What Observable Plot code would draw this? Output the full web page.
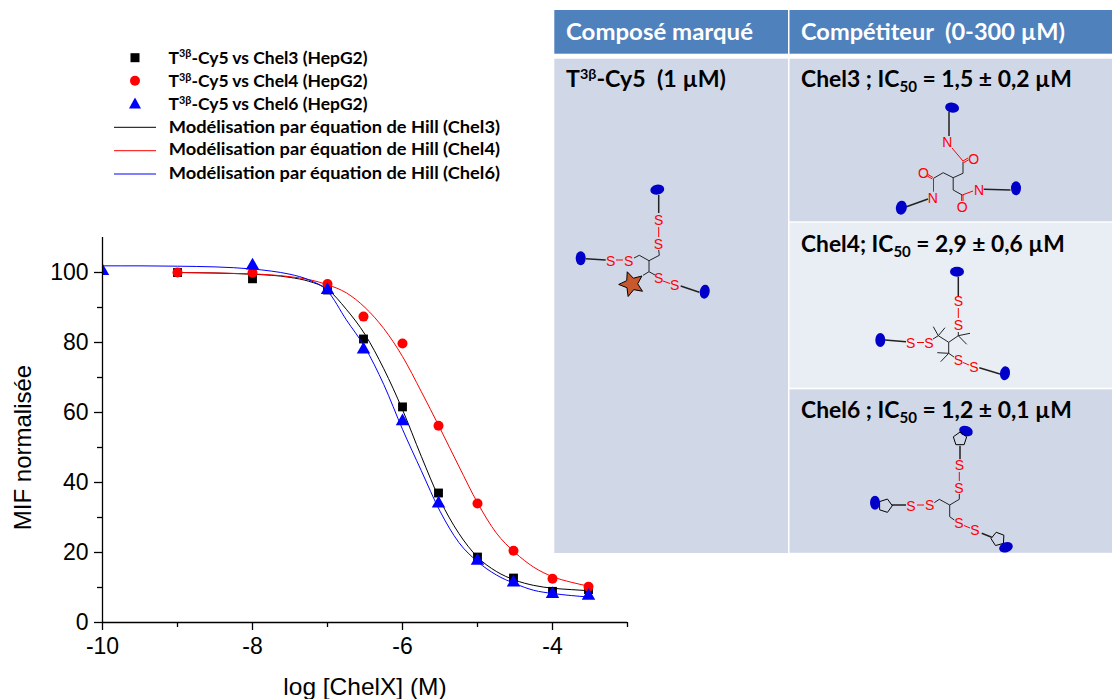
<!DOCTYPE html>
<html lang="fr">
<head>
<meta charset="utf-8">
<title>MIF normalisée</title>
<script src="https://cdn.jsdelivr.net/npm/d3@7"></script>
<script src="https://cdn.jsdelivr.net/npm/@observablehq/plot@0.6"></script>
<style>
html,body{margin:0;padding:0;background:#fff;overflow:hidden}
#stage{position:relative;width:1112px;height:699px}
#stage>svg{position:absolute;left:0;top:0}
</style>
</head>
<body>
<div id="stage"></div>
<script>
// Measured points
const chel3X = [-9,-8,-7,-6.52,-6,-5.52,-5,-4.52,-4,-3.52];
const chel3Y = [100,98.2,95,81,61.6,37,18.7,12.7,8.9,9.4];
const chel4X = [-9,-8,-7,-6.52,-6,-5.52,-5,-4.52,-4,-3.52];
const chel4Y = [100,99.9,96.7,87.4,79.7,56.2,34,20.5,12.5,10.2];
const chel6X = [-10,-8,-7,-6.52,-6,-5.52,-5,-4.52,-4,-3.52];
const chel6Y = [100.4,102,95,78,57.5,34,17.6,11.4,8.1,7.6];
// Fitted curves
const fit3X = [-9,-8,-7.5,-7.25,-7,-6.75,-6.5,-6.25,-6,-5.75,-5.5,-5.25,-5,-4.75,-4.5,-4.25,-4,-3.75,-3.52];
const fit3Y = [100,99.5,98.6,97.5,95.2,89.5,82.3,72.5,60.8,47.5,35,25.5,18.7,14.6,12.1,10.6,9.8,9.4,9.1];
const fit4X = [-9,-8,-7.5,-7.25,-7,-6.75,-6.5,-6.25,-6,-5.75,-5.5,-5.25,-5,-4.75,-4.5,-4.25,-4,-3.75,-3.52];
const fit4Y = [100,99.6,98.8,98,96.5,94.2,90,84,76,66,55.5,44.7,34.2,25.6,20,15.8,13.1,11.5,10.4];
const fit6X = [-10,-9.5,-9,-8.5,-8,-7.75,-7.5,-7.25,-7,-6.75,-6.5,-6.25,-6,-5.75,-5.5,-5.25,-5,-4.75,-4.5,-4.25,-4,-3.75,-3.52];
const fit6Y = [101.9,101.9,101.8,101.6,101,100.4,99.5,97.9,94.7,86.5,78.6,68,55.2,43.4,31.8,22.9,17.4,13.6,11.1,9.2,8.3,7.7,7.3];
const xMajor = [-10,-8,-6,-4];
const xMinor = [-9,-7,-5,-3];
const yMajor = [0,20,40,60,80,100];
const yMinor = [10,30,50,70,90];
const xLabel = "log [ChelX] (M)";
const yLabel = "MIF normalisée";
const legendDots = ["T|3β|-Cy5 vs Chel3 (HepG2)","T|3β|-Cy5 vs Chel4 (HepG2)","T|3β|-Cy5 vs Chel6 (HepG2)"];
const legendLines = ["Modélisation par équation de Hill (Chel3)","Modélisation par équation de Hill (Chel4)","Modélisation par équation de Hill (Chel6)"];
const colors = ["#000000","#ff0000","#0000ff"];

const pts = (xs,ys)=>xs.map((x,i)=>({x,y:ys[i]}));
const axisFont = 23;
const fmt = d=>String(d);

const chart = Plot.plot({
  width:1112,height:699,
  marginLeft:102,marginRight:485,marginTop:237,marginBottom:77,
  style:{fontFamily:"'Liberation Sans',Arial,sans-serif",color:"#000",background:"transparent"},
  x:{domain:[-10,-3]},
  y:{domain:[0,110]},
  marks:[
    Plot.dot(pts(chel3X,chel3Y),{x:"x",y:"y",symbol:"square",r:5,fill:colors[0]}),
    Plot.line(pts(fit3X,fit3Y),{x:"x",y:"y",stroke:colors[0],strokeWidth:1,curve:"monotone-x"}),
    Plot.line(pts(fit4X,fit4Y),{x:"x",y:"y",stroke:colors[1],strokeWidth:1,curve:"monotone-x"}),
    Plot.dot(pts(chel4X,chel4Y),{x:"x",y:"y",symbol:"circle",r:5,fill:colors[1]}),
    Plot.line(pts(fit6X,fit6Y),{x:"x",y:"y",stroke:colors[2],strokeWidth:1,curve:"monotone-x"}),
    Plot.dot(pts(chel6X,chel6Y),{x:"x",y:"y",symbol:"triangle",r:5,fill:colors[2],clip:"frame"}),
    Plot.axisX({ticks:xMinor,tickSize:5,tickFormat:()=>"",label:null,strokeWidth:1.3,strokeOpacity:1}),
    Plot.axisY({ticks:yMinor,tickSize:5,tickFormat:()=>"",label:null,strokeWidth:1.3,strokeOpacity:1}),
    Plot.axisX({ticks:xMajor,tickSize:8,tickPadding:7,tickFormat:fmt,fontSize:axisFont,label:null,strokeWidth:1.3,strokeOpacity:1}),
    Plot.axisY({ticks:yMajor,tickSize:8,tickPadding:6,tickFormat:fmt,fontSize:axisFont,label:null,strokeWidth:1.3,strokeOpacity:1}),
    Plot.ruleY([0],{stroke:"#000",strokeWidth:1.3}),
    Plot.ruleX([-10],{stroke:"#000",strokeWidth:1.3}),
    Plot.text([xLabel],{frameAnchor:"bottom",dy:65,lineAnchor:"middle",fontSize:24.5,fill:"#000"}),
    Plot.text([yLabel],{frameAnchor:"left",dx:-79,dy:17.5,rotate:-90,lineAnchor:"middle",textAnchor:"middle",fontSize:24,fill:"#000"})
  ]
});
const stage = document.getElementById("stage");
stage.appendChild(chart);

// Legend, table and structural drawings: an illustration layer over the chart
const svg = d3.select(stage).append("svg").attr("width",1112).attr("height",699).attr("viewBox","0 0 1112 699")
  .style("font-family","Lato,'Open Sans',sans-serif").style("pointer-events","none");

// writes a text run and stretches it horizontally to the reference's width
function richText(x,y,parts,size,fill,width){
  const t = svg.append("text").attr("font-size",size).attr("font-weight",700).attr("fill",fill||"#000").style("white-space","pre");
  parts.forEach(p=>{
    const s = typeof p==="string"?{t:p}:p;
    const ts = t.append("tspan").text(s.t);
    if(s.sup){ts.attr("dy",-size*0.36).attr("font-size",size*0.62);}
    if(s.sub){ts.attr("dy",size*0.24).attr("font-size",size*0.66);}
    if(s.back){ts.attr("dy",s.back*size);}
  });
  const k = width/t.node().getComputedTextLength();
  t.attr("transform",`translate(${x},${y}) scale(${k},1)`);
  return t;
}
// legend
const legendDotBase = [63.5,87,110];
const legendLineY = [127.3,150.7,174], legendLineBase = [133,155.3,178.7];
const legendSize = 16.8;
svg.append("rect").attr("x",130.5).attr("y",53.2).attr("width",9).attr("height",9).attr("fill",colors[0]);
svg.append("circle").attr("cx",135).attr("cy",80.7).attr("r",5).attr("fill",colors[1]);
svg.append("path").attr("d","M135,97.5L141,108.5L129,108.5Z").attr("fill",colors[2]);
legendDots.forEach((s,i)=>{
  const [a,b,c]=s.split("|");
  richText(168.5,legendDotBase[i],[a,{t:b,sup:1},{t:c,back:0.36}],legendSize,"#000",199);
});
legendLines.forEach((s,i)=>{
  svg.append("line").attr("x1",114).attr("x2",156).attr("y1",legendLineY[i]).attr("y2",legendLineY[i]).attr("stroke",colors[i]).attr("stroke-width",1);
  richText(168.8,legendLineBase[i],[s],legendSize,"#000",331);
});
// table
const cells = [
  [554.3,10,233.7,43.7,"#4f81bd"],[789.5,10,322.5,43.7,"#4f81bd"],
  [554.3,58.7,233.7,494.3,"#d0d8e8"],[789.5,58.7,322.5,162.6,"#d0d8e8"],
  [789.5,222.7,322.5,165,"#e9edf4"],[789.5,389.3,322.5,163.5,"#d0d8e8"]
];
cells.forEach(c=>svg.append("rect").attr("x",c[0]).attr("y",c[1]).attr("width",c[2]).attr("height",c[3]).attr("fill",c[4]));
const headSize = 22;
richText(566,39.5,["Composé marqué"],headSize,"#fff",187);
richText(801,39.5,["Compétiteur  (0-300 µM)"],headSize,"#fff",264);
richText(566,87,["T",{t:"3β",sup:1},{t:"-Cy5  (1 µM)",back:0.36}],headSize,"#000",160);
const icRow = (y,name,val,w)=>richText(801,y,[name+" IC",{t:"50",sub:1},{t:" = "+val,back:-0.24}],headSize,"#000",w);
icRow(87,"Chel3 ;","1,5 ± 0,2 µM",271);
icRow(252,"Chel4;","2,9 ± 0,6 µM",264);
icRow(418,"Chel6 ;","1,2 ± 0,1 µM",271);

// molecule helpers
const poly=(p,c,w)=>svg.append("polyline").attr("points",p.map(q=>q.join(",")).join(" ")).attr("fill","none").attr("stroke",c).attr("stroke-width",w||1).attr("stroke-linejoin","round");
const blue=(x,y,rx,ry,a)=>svg.append("ellipse").attr("cx",0).attr("cy",0).attr("rx",rx).attr("ry",ry).attr("fill","#0000c8").attr("transform",`translate(${x},${y}) rotate(${a||0})`);
const atom=(s,x,y,size)=>svg.append("text").attr("x",x).attr("y",y).attr("dy","0.36em").attr("text-anchor","middle").attr("font-family","'Liberation Sans',Arial,sans-serif").attr("font-size",size||14).attr("fill","#ff0000").text(s);
const penta=(x,y,r,a)=>{const p=d3.range(5).map(i=>{const t=(a||0)+i*72-90;return [x+r*Math.cos(t*Math.PI/180),y+r*Math.sin(t*Math.PI/180)];});
  svg.append("polygon").attr("points",p.map(q=>q.join(",")).join(" ")).attr("fill","none").attr("stroke","#000").attr("stroke-width",1);};
const B="#222", R="#ff0000";

// T3β-Cy5
blue(657.3,189.7,7,5,-10);
poly([[658.7,195],[658.7,213]],B,1.5);
atom("S",658.7,220);poly([[658.7,227],[658.7,237]],R);atom("S",658.3,243.5);
poly([[658.7,250],[659.3,255.3],[649,260.7],[639.3,255.3],[634,258]],B);
atom("S",628.7,260.7);poly([[616,260],[623,260]],R);atom("S",610.7,260.7);
poly([[605.7,260],[586,258.7]],B,1.5);blue(580.7,258.3,5,7);
poly([[649,260.7],[649,271.7],[643,275.3]],B);poly([[649,271.7],[655,275]],B);
atom("S",658.7,278.3);poly([[663,281],[670,283.5]],R);atom("S",674.7,285.3);
poly([[680.7,286],[699.3,292.3]],B,1.5);blue(704.7,291.7,5,7,10);
const star=(cx,cy,ro,ri,a)=>d3.range(10).map(i=>{const r=i%2?ri:ro,t=(a+i*36-90)*Math.PI/180;return [cx+r*Math.cos(t),cy+r*Math.sin(t)].join(",");}).join(" ");
svg.append("polygon").attr("points",star(631.7,284,13,6,-20)).attr("fill","#c8582e").attr("stroke","#000").attr("stroke-width",1);

// Chel3
blue(952.1,107.7,7,5,10);
poly([[949,112],[949,136]],B,1.5);
atom("N",947.3,142.3);poly([[952,148],[963,161]],R);
atom("O",973.6,159.3);poly([[963,161],[968,158]],R);poly([[963.8,162.6],[968.6,159.8]],R);
poly([[963,161.7],[963,173.3],[953.2,177.7],[943.2,172.7],[933.5,178.3]],B);
atom("O",923.5,173.3);poly([[933,177.5],[928,174.5]],R);poly([[932.3,179],[927.3,176]],R);
poly([[933.5,178.3],[933.5,191.7]],R);atom("N",932.8,198.3);
poly([[928,199],[905,207.3]],B,1.5);blue(901.3,207.7,5.5,7,10);
poly([[953.2,177.7],[953.2,190],[962.2,195]],B);
poly([[961.6,195],[961.6,201]],R);poly([[963,195],[963,201]],R);atom("O",962.2,207.3);
poly([[962.2,195],[973,191]],R);atom("N",979,190);
poly([[983.7,189.3],[1010.5,190]],B,1.5);blue(1016,188.3,5,7);

// Chel4
blue(957,271.7,7,5);
poly([[958.3,276.7],[958.3,296]],B,1.5);atom("S",958.3,301);poly([[958.3,308],[958.3,318]],R);atom("S",958.3,325);
poly([[958.3,332],[958.3,335.7],[948.7,342.3],[938.3,335.7],[933,339]],B);
atom("S",929,343.3);poly([[917,342.5],[924,342.5]],R);atom("S",910.7,343.3);
poly([[906,341.7],[885,340]],B,1.5);blue(880.3,340,5,7);
poly([[948.7,342.3],[948.7,353.3],[954,357]],B);
atom("S",958.3,360);poly([[963,362.5],[969,365]],R);atom("S",974,366.7);
poly([[979.3,367.7],[1000,374]],B,1.5);blue(1005,373.3,5,7,10);
[[[958.3,335.7],[970,333.3]],[[958.3,335.7],[966.7,344.3]],[[938.3,335.7],[933.3,326.7]],[[938.3,335.7],[945,327.7]],[[948.7,353.3],[937.3,352.7]],[[948.7,353.3],[940.7,361.7]]].forEach(l=>poly(l,B));

// Chel6
blue(966,431,7,5,20);penta(960,439,7);
poly([[960,445.7],[960,459.3]],B,1.5);atom("S",959.3,465);poly([[959.3,472],[959.3,481]],R);atom("S",959,487.7);
poly([[959.3,494],[959.3,499.3],[949.7,505],[939.3,499.3],[934.3,502.7]],B);
atom("S",929.7,505.3);poly([[917,505],[924,505]],R);atom("S",911,505.7);
poly([[906,505],[891.7,505]],B,1.5);penta(885.3,505.7,7,90);blue(875,502.7,5,7);
poly([[949.7,505],[949.7,516.7],[954.3,520]],B);
atom("S",959,523.3);poly([[964,525.5],[970,528]],R);atom("S",975,530);
poly([[981.7,533.3],[991.7,537.3]],B,1.5);penta(998,539,7,-15);blue(1006,547.3,7,5,-20);
</script>
</body>
</html>
